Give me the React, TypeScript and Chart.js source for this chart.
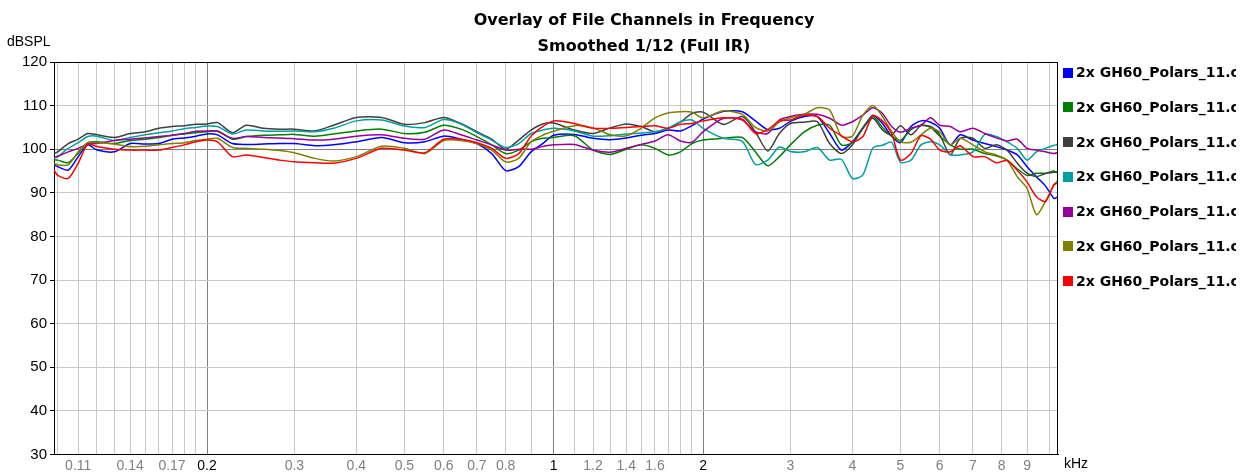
import React, { useEffect, useRef } from 'react';
import { Chart, registerables } from 'chart.js';

Chart.register(...registerables);

const TITLE_LINES = ['Overlay of File Channels in Frequency', 'Smoothed 1/12 (Full IR)'];
const Y_UNIT = 'dBSPL';
const X_UNIT = 'kHz';

const FREQ_KHZ = [0.0983, 0.1, 0.105, 0.11, 0.115, 0.12, 0.13, 0.14, 0.15, 0.16, 0.17, 0.18, 0.19, 0.2, 0.21, 0.225, 0.24, 0.26, 0.28, 0.3,
  0.33, 0.36, 0.4, 0.45, 0.5, 0.55, 0.6, 0.65, 0.7, 0.75, 0.8, 0.85, 0.9, 0.95,
  1.0, 1.1, 1.2, 1.3, 1.4, 1.5, 1.6, 1.7, 1.8, 1.9,
  2.0, 2.2, 2.4, 2.55, 2.7, 2.85, 3.0,
  3.2, 3.4, 3.6, 3.8, 4.0, 4.2, 4.4, 4.6, 4.8, 5.0, 5.25, 5.5, 5.75, 6.0, 6.3, 6.6, 7.0, 7.4, 7.8, 8.2, 8.6, 9.0, 9.4, 9.8, 10.2, 10.39];

const BLUE = [96.4, 96.0, 95.2, 98.3, 101.0, 99.8, 99.4, 101.3, 101.2, 101.3, 102.3, 102.6, 103.0, 103.5, 103.3, 101.3, 101.1, 101.2, 101.3, 101.3,
  100.8, 101.0, 101.7, 102.7, 101.5, 101.7, 103.0, 102.3, 101.3, 99.0, 95.1, 96.0, 99.4, 101.3,
  103.2, 103.4, 102.5, 102.2, 102.6, 103.2, 103.6, 104.4, 104.2, 105.4,
  106.9, 108.7, 108.6, 106.5, 104.5, 104.8, 106.4,
  107.5, 107.5, 103.6, 99.8, 101.7, 104.8, 107.8, 105.9, 103.0, 101.5, 105.2, 106.5, 106.2, 104.8, 101.0, 103.3, 102.1, 101.3, 100.6, 99.8, 98.7, 96.0, 93.7, 91.6, 88.7, 89.1];

const GREEN = [97.5, 97.5, 96.9, 99.1, 101.5, 101.7, 101.3, 102.0, 102.3, 102.7, 103.2, 103.5, 103.8, 104.0, 104.2, 102.3, 102.9, 103.2, 103.3, 103.4,
  103.0, 103.5, 104.2, 104.6, 103.6, 103.9, 105.5, 104.6, 102.9, 101.0, 99.0, 99.8, 101.7, 102.5,
  102.7, 103.1, 99.8, 98.8, 100.0, 101.0, 100.2, 98.7, 99.4, 101.3,
  102.1, 102.5, 102.7, 99.4, 96.2, 98.3, 101.0,
  104.0, 105.5, 105.5, 101.0, 101.5, 105.0, 107.5, 105.0, 103.0, 102.0, 104.5, 105.5, 105.0, 103.0, 101.0, 100.0, 100.0, 99.0, 98.5, 97.5, 95.5, 94.0, 94.5, 94.5, 95.0, 94.5];

const GRAY = [99.0, 99.4, 101.3, 102.3, 103.6, 103.3, 102.7, 103.6, 104.0, 104.8, 105.2, 105.4, 105.7, 105.8, 106.1, 103.8, 105.5, 104.8, 104.6, 104.6,
  104.2, 105.5, 107.3, 107.3, 105.7, 106.1, 107.3, 105.9, 104.0, 102.3, 100.0, 102.1, 104.4, 105.8,
  106.0, 104.4, 103.6, 104.9, 105.8, 105.2, 104.0, 104.8, 106.2, 108.2,
  108.5, 105.7, 107.5, 104.0, 99.6, 103.6, 105.9,
  106.2, 106.3, 101.3, 99.0, 101.0, 104.8, 107.1, 104.4, 103.3, 105.4, 103.3, 105.4, 105.2, 103.3, 98.7, 102.5, 102.5, 100.2, 101.0, 99.8, 96.8, 94.5, 93.7, 94.4, 94.7, 94.8];

const TEAL = [97.9, 98.3, 100.2, 101.5, 102.9, 103.0, 102.0, 102.7, 103.3, 103.8, 104.2, 104.7, 105.0, 105.3, 105.2, 103.5, 104.4, 104.2, 104.1, 104.2,
  104.0, 104.8, 106.5, 106.7, 105.3, 105.0, 106.8, 105.8, 103.8, 102.1, 100.4, 101.3, 103.6, 104.4,
  104.8, 104.2, 103.0, 103.1, 103.5, 103.7, 104.0, 104.8, 106.3, 106.7,
  104.8, 102.5, 101.8, 96.5, 97.5, 100.5, 99.5,
  99.4, 100.4, 97.5, 97.7, 93.3, 94.1, 100.3, 100.9, 101.6, 97.0, 97.5, 101.0, 101.7, 101.0, 98.8, 98.7, 99.4, 103.4, 102.9, 101.7, 100.2, 97.5, 99.4, 100.2, 100.9, 101.1];

const PURPLE = [98.1, 98.4, 99.4, 100.2, 101.2, 101.3, 102.0, 102.3, 102.6, 102.9, 103.2, 103.6, 104.1, 104.2, 104.1, 102.5, 102.9, 102.7, 102.6, 102.4,
  102.1, 102.3, 103.0, 103.3, 102.5, 102.3, 104.4, 103.3, 102.1, 101.0, 99.8, 100.0, 100.0, 100.6,
  101.0, 101.1, 99.8, 99.3, 100.2, 101.1, 101.9, 103.3, 101.9, 101.6,
  104.0, 107.1, 106.7, 104.0, 103.6, 106.7, 107.5,
  108.0, 108.0, 107.1, 105.5, 106.3, 107.8, 109.5, 108.2, 105.2, 103.9, 104.8, 105.5, 107.2, 105.5, 105.2, 104.0, 104.8, 103.6, 102.6, 101.9, 102.3, 100.2, 99.8, 99.4, 99.0, 99.3];

const OLIVE = [96.8, 96.4, 96.4, 99.4, 101.5, 101.5, 101.2, 100.6, 100.7, 101.0, 101.3, 101.5, 102.0, 102.3, 102.5, 100.4, 100.2, 100.0, 99.7, 99.2,
  97.9, 97.3, 98.3, 100.7, 100.2, 99.0, 102.0, 102.0, 101.3, 99.8, 97.1, 97.9, 101.7, 103.2,
  104.1, 105.4, 104.9, 103.3, 103.1, 104.8, 107.2, 108.3, 108.6, 108.5,
  107.2, 108.8, 108.0, 105.0, 104.2, 106.2, 107.2,
  108.0, 109.5, 109.0, 103.0, 103.0, 107.8, 110.0, 107.5, 104.0, 101.7, 101.6, 103.3, 104.8, 104.0, 101.0, 102.5, 101.0, 99.4, 98.7, 97.5, 93.7, 91.0, 85.0, 88.0, 91.8, 92.9];

const RED = [95.2, 94.0, 93.3, 96.8, 101.2, 100.6, 100.0, 99.8, 99.8, 99.8, 100.4, 101.0, 101.7, 102.1, 101.7, 98.3, 98.7, 98.1, 97.5, 97.1,
  96.9, 96.8, 97.9, 100.2, 99.8, 99.2, 102.3, 102.3, 101.5, 100.2, 97.9, 99.0, 103.0, 105.2,
  106.5, 105.9, 104.8, 104.8, 105.0, 105.2, 105.4, 104.8, 105.7, 105.9,
  106.5, 107.2, 106.9, 103.6, 104.5, 106.5, 106.7,
  107.8, 107.5, 104.8, 103.1, 101.7, 102.9, 107.7, 106.5, 103.6, 97.5, 99.0, 103.1, 102.3, 99.8, 99.4, 100.8, 98.3, 98.3, 96.9, 97.4, 95.2, 92.5, 89.1, 88.0, 91.9, 92.2];

const SERIES_NAMES = [
  '2x GH60_Polars_11.csv', '2x GH60_Polars_11.csv', '2x GH60_Polars_11.csv', '2x GH60_Polars_11.csv',
  '2x GH60_Polars_11.csv', '2x GH60_Polars_11.csv', '2x GH60_Polars_11.csv',
];
const SERIES_VALUES = [BLUE, GREEN, GRAY, TEAL, PURPLE, OLIVE, RED];
const SERIES_COLORS = ['#0000ff', '#008000', '#404040', '#00a0a0', '#990099', '#808000', '#ff0000'];

const X_GRID_VALUES = [0.1, 0.11, 0.12, 0.13, 0.14, 0.15, 0.16, 0.17, 0.18, 0.19, 0.2, 0.3, 0.4, 0.5, 0.6, 0.7, 0.8, 0.9,
  1, 1.1, 1.2, 1.3, 1.4, 1.5, 1.6, 1.7, 1.8, 1.9, 2, 3, 4, 5, 6, 7, 8, 9, 10];
const X_GRID_LABELS = ['', '0.11', '', '', '0.14', '', '', '0.17', '', '', '0.2', '0.3', '0.4', '0.5', '0.6', '0.7', '0.8', '',
  '1', '', '1.2', '', '1.4', '', '1.6', '', '', '', '2', '3', '4', '5', '6', '7', '8', '9', ''];
const X_MAJOR = [0.2, 1, 2];

const LEFT = 54, TOP = 62, RIGHT = 1058, BOTTOM = 454.5, W = 1247, H = 475;

const overlayPlugin = {
  id: 'overlay',
  afterDraw(chart: any) {
    const { ctx, chartArea } = chart;
    ctx.save();
    ctx.strokeStyle = '#000';
    ctx.lineWidth = 1;
    ctx.beginPath();
    ctx.moveTo(chartArea.left, Math.round(chartArea.top) + 0.5);
    ctx.lineTo(chartArea.right, Math.round(chartArea.top) + 0.5);
    ctx.moveTo(Math.round(chartArea.right) - 0.5, chartArea.top);
    ctx.lineTo(Math.round(chartArea.right) - 0.5, chartArea.bottom);
    ctx.stroke();

    ctx.fillStyle = '#000';
    ctx.textAlign = 'center';
    ctx.textBaseline = 'middle';
    ctx.font = 'bold 16px "DejaVu Sans"';
    ctx.fillText(TITLE_LINES[0], 644, 21);
    ctx.fillText(TITLE_LINES[1], 644, 47);

    ctx.textAlign = 'left';
    ctx.font = '14px "Liberation Sans"';
    ctx.fillText(Y_UNIT, 7, 42);
    ctx.fillText(X_UNIT, 1064, 464);

    ctx.save();
    ctx.beginPath();
    ctx.rect(1060, 0, 1236 - 1060, H);
    ctx.clip();
    ctx.font = 'bold 14px "DejaVu Sans"';
    SERIES_NAMES.forEach((name, i) => {
      const y = 72.7 + i * 34.7;
      ctx.fillStyle = SERIES_COLORS[i];
      ctx.fillRect(1063, Math.round(y - 5), 10, 10);
      ctx.fillStyle = '#000';
      ctx.fillText(name, 1076, y + 1);
    });
    ctx.restore();
    ctx.restore();
  },
};

export default function App() {
  const ref = useRef<HTMLCanvasElement | null>(null);
  useEffect(() => {
    if (!ref.current) return;
    const datasets = SERIES_VALUES.map((vals, i) => ({
      label: SERIES_NAMES[i],
      data: FREQ_KHZ.map((f, j) => ({ x: f, y: vals[j] })),
      borderColor: SERIES_COLORS[i],
      backgroundColor: SERIES_COLORS[i],
      borderWidth: 1.5,
      pointRadius: 0,
      tension: 0.25,
      fill: false,
      order: SERIES_VALUES.length - i,
    }));
    const chart = new Chart(ref.current, {
      type: 'line',
      data: { datasets },
      plugins: [overlayPlugin],
      options: {
        animation: false,
        responsive: false,
        devicePixelRatio: 1,
        parsing: false,
        normalized: true,
        layout: { padding: { left: 0, top: TOP, right: W - RIGHT, bottom: 0 } },
        plugins: { legend: { display: false }, title: { display: false }, tooltip: { enabled: false } },
        scales: {
          x: {
            type: 'logarithmic',
            min: 0.0983,
            max: 10.39,
            afterFit: (axis: any) => { axis.height = H - BOTTOM; },
            afterBuildTicks: (axis: any) => { axis.ticks = X_GRID_VALUES.map((v) => ({ value: v })); },
            border: { display: true, color: '#000', width: 1 },
            grid: {
              drawTicks: false,
              color: (c: any) => (X_MAJOR.includes(c.tick?.value) ? '#808080' : '#c8c8c8'),
              lineWidth: 1,
            },
            ticks: {
              autoSkip: false,
              maxRotation: 0,
              padding: 3,
              font: { family: '"Liberation Sans"', size: 14 },
              color: (c: any) => (X_MAJOR.includes(c.tick?.value) ? '#000' : '#808080'),
              callback: (_v: any, i: number) => X_GRID_LABELS[i],
            },
          },
          y: {
            type: 'linear',
            min: 30,
            max: 120,
            afterFit: (axis: any) => { axis.width = LEFT; },
            border: { display: true, color: '#000', width: 1 },
            grid: {
              drawTicks: true,
              tickLength: 4,
              tickColor: '#000',
              color: (c: any) => (c.tick?.value === 100 ? '#808080' : c.tick?.value === 120 ? '#000' : '#c8c8c8'),
              lineWidth: 1,
            },
            ticks: {
              stepSize: 10,
              padding: 3,
              color: '#000',
              font: { family: '"Liberation Sans"', size: 15 },
            },
          },
        },
      },
    });
    return () => chart.destroy();
  }, []);
  return (
    <div style={{ position: 'absolute', left: 0, top: 0, width: W, height: H, background: '#fff' }}>
      <canvas ref={ref} width={W} height={H} style={{ display: 'block', width: W, height: H }} />
    </div>
  );
}
